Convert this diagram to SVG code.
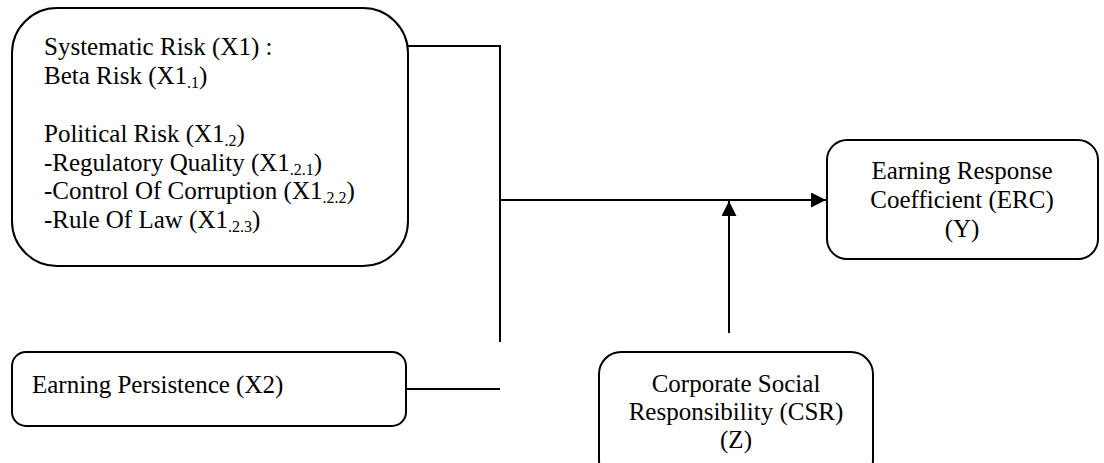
<svg xmlns="http://www.w3.org/2000/svg" width="1104" height="463" viewBox="0 0 1104 463">
<defs>
<style>
.box{fill:#fff;stroke:#000;stroke-width:2}
.ln{fill:none;stroke:#000;stroke-width:2}
.t{font-family:'Liberation Serif','Times New Roman',Times,serif;font-size:25px;fill:#000}
.c{text-anchor:middle}
.sub{font-size:16px}
</style>
<marker id="arr" viewBox="0 0 10 10" refX="10" refY="5" markerWidth="8" markerHeight="7.5" markerUnits="strokeWidth" orient="auto">
<path d="M0,0 L10,5 L0,10 Z" fill="#000"/>
</marker>
</defs>
<rect width="1104" height="463" fill="#fff"/>
<g id="connectors">
<polyline class="ln" points="408,46 500,46 500,342"/>
<line class="ln" x1="401" y1="389" x2="500" y2="389"/>
<line class="ln" x1="500" y1="200" x2="826" y2="200" marker-end="url(#arr)"/>
<line class="ln" x1="729" y1="333" x2="729" y2="201" marker-end="url(#arr)"/>
</g>
<g id="x1" class="t" font-family="Liberation Serif, serif">
<rect class="box" x="12" y="8" width="396" height="258" rx="45" ry="45"/>
<text x="44" y="55">Systematic Risk (X1) :</text>
<text x="44" y="84">Beta Risk (X1<tspan class="sub" dy="4">.1</tspan><tspan dy="-4">)</tspan></text>
<text x="44" y="142">Political Risk (X1<tspan class="sub" dy="4">.2</tspan><tspan dy="-4">)</tspan></text>
<text x="44" y="171">-Regulatory Quality (X1<tspan class="sub" dy="4">.2.1</tspan><tspan dy="-4">)</tspan></text>
<text x="44" y="199">-Control Of Corruption (X1<tspan class="sub" dy="4">.2.2</tspan><tspan dy="-4">)</tspan></text>
<text x="44" y="228">-Rule Of Law (X1<tspan class="sub" dy="4">.2.3</tspan><tspan dy="-4">)</tspan></text>
</g>
<g id="x2" class="t" font-family="Liberation Serif, serif">
<rect class="box" x="12" y="352" width="394" height="74" rx="14" ry="14"/>
<text x="32" y="393">Earning Persistence (X2)</text>
</g>
<g id="y" class="t" font-family="Liberation Serif, serif">
<rect class="box" x="827" y="140" width="271" height="119" rx="20" ry="20"/>
<text class="c" x="962" y="179">Earning Response</text>
<text class="c" x="962" y="208">Coefficient (ERC)</text>
<text class="c" x="962" y="237">(Y)</text>
</g>
<g id="z" class="t" font-family="Liberation Serif, serif">
<rect class="box" x="599" y="352" width="274" height="130" rx="22" ry="22"/>
<text class="c" x="736" y="392">Corporate Social</text>
<text class="c" x="736" y="420">Responsibility (CSR)</text>
<text class="c" x="736" y="448">(Z)</text>
</g>
</svg>
